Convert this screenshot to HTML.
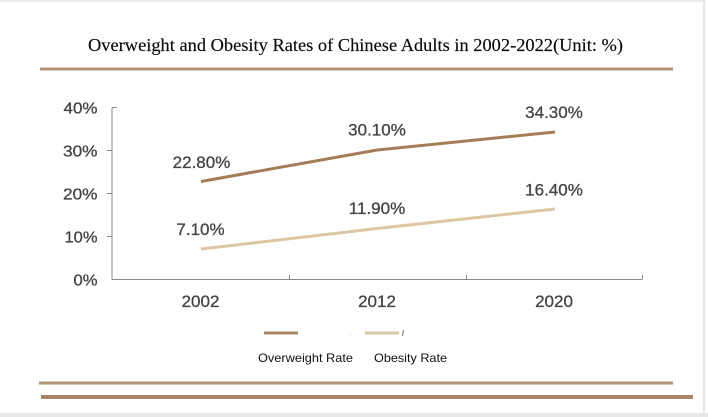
<!DOCTYPE html>
<html>
<head>
<meta charset="utf-8">
<style>
  html, body { margin: 0; padding: 0; background: #ffffff; }
  body { width: 708px; height: 417px; overflow: hidden; }
  svg { display: block; }
</style>
</head>
<body>
<svg width="708" height="417" viewBox="0 0 708 417" xmlns="http://www.w3.org/2000/svg">
  <!-- frame -->
  <rect x="0" y="0" width="708" height="417" fill="#ffffff"/>
  <rect x="0" y="0" width="706" height="2" fill="#ececec"/>
  <rect x="703" y="0" width="2" height="414" fill="#e6e6e6"/>
  <rect x="0" y="413" width="708" height="4" fill="#e8e8e8"/>

  <!-- title -->
  <text x="88" y="51" font-family="Liberation Serif, serif" font-size="18" fill="#0a0a0a" stroke="#0a0a0a" stroke-width="0.15" textLength="535" lengthAdjust="spacingAndGlyphs">Overweight and Obesity Rates of Chinese Adults in 2002-2022(Unit: %)</text>
  <rect x="40" y="67.5" width="633" height="3" fill="#b09276"/>

  <!-- axes -->
  <g stroke="#8a8a8a" stroke-width="1" fill="none">
    <line x1="112" y1="107.5" x2="112" y2="279.5"/>
    <line x1="112" y1="107.5" x2="117" y2="107.5"/>
    <line x1="107" y1="150.5" x2="112" y2="150.5"/>
    <line x1="107" y1="193.5" x2="112" y2="193.5"/>
    <line x1="107" y1="236.5" x2="112" y2="236.5"/>
    <line x1="112" y1="279.5" x2="642" y2="279.5"/>
    <line x1="289.5" y1="275" x2="289.5" y2="279.5"/>
    <line x1="466.5" y1="275" x2="466.5" y2="279.5"/>
    <line x1="642.5" y1="275" x2="642.5" y2="279.5"/>
  </g>

  <!-- y labels -->
  <g font-family="Liberation Sans, Arial, sans-serif" font-size="16" fill="#444" stroke="#444" stroke-width="0.3" text-anchor="end">
    <text x="97.5" y="113.5" textLength="34" lengthAdjust="spacingAndGlyphs">40%</text>
    <text x="97.5" y="156.5" textLength="34.5" lengthAdjust="spacingAndGlyphs">30%</text>
    <text x="97.5" y="199.5" textLength="34.5" lengthAdjust="spacingAndGlyphs">20%</text>
    <text x="97.5" y="242.5" textLength="33" lengthAdjust="spacingAndGlyphs">10%</text>
    <text x="97.5" y="285.5" textLength="24" lengthAdjust="spacingAndGlyphs">0%</text>
  </g>

  <!-- x labels -->
  <g font-family="Liberation Sans, Arial, sans-serif" font-size="17" fill="#444" stroke="#444" stroke-width="0.3" text-anchor="middle">
    <text x="200.5" y="307">2002</text>
    <text x="377" y="307">2012</text>
    <text x="554" y="307">2020</text>
  </g>

  <!-- series -->
  <polyline points="201,181.5 377,150 555,132" fill="none" stroke="#a47d58" stroke-width="3" stroke-linecap="butt" stroke-linejoin="round"/>
  <polyline points="201,249 377,228.5 555,209" fill="none" stroke="#dcc7a3" stroke-width="3" stroke-linecap="butt" stroke-linejoin="round"/>

  <!-- data labels -->
  <g font-family="Liberation Sans, Arial, sans-serif" font-size="17" fill="#444" stroke="#444" stroke-width="0.3" text-anchor="middle">
    <text x="201.5" y="168">22.80%</text>
    <text x="200.5" y="235">7.10%</text>
    <text x="377" y="135.5">30.10%</text>
    <text x="377" y="214">11.90%</text>
    <text x="554" y="118">34.30%</text>
    <text x="554" y="195.5">16.40%</text>
  </g>

  <!-- legend -->
  <rect x="264" y="331.5" width="34" height="3" fill="#a88663"/>
  <rect x="365" y="331.5" width="34" height="3" fill="#d9c8a6"/>
  <line x1="403.5" y1="330" x2="402.5" y2="336" stroke="#777" stroke-width="1"/>
  <rect x="349.5" y="334" width="1" height="1" fill="#ccc"/>
  <g font-family="Liberation Sans, Arial, sans-serif" font-size="12" fill="#111">
    <text x="258" y="362" textLength="95" lengthAdjust="spacingAndGlyphs">Overweight Rate</text>
    <text x="374" y="362" textLength="73" lengthAdjust="spacingAndGlyphs">Obesity Rate</text>
  </g>

  <!-- bottom rules -->
  <rect x="39" y="381.5" width="634" height="3" fill="#b09276"/>
  <rect x="41" y="395" width="652" height="4" fill="#a98566"/>
</svg>
</body>
</html>
